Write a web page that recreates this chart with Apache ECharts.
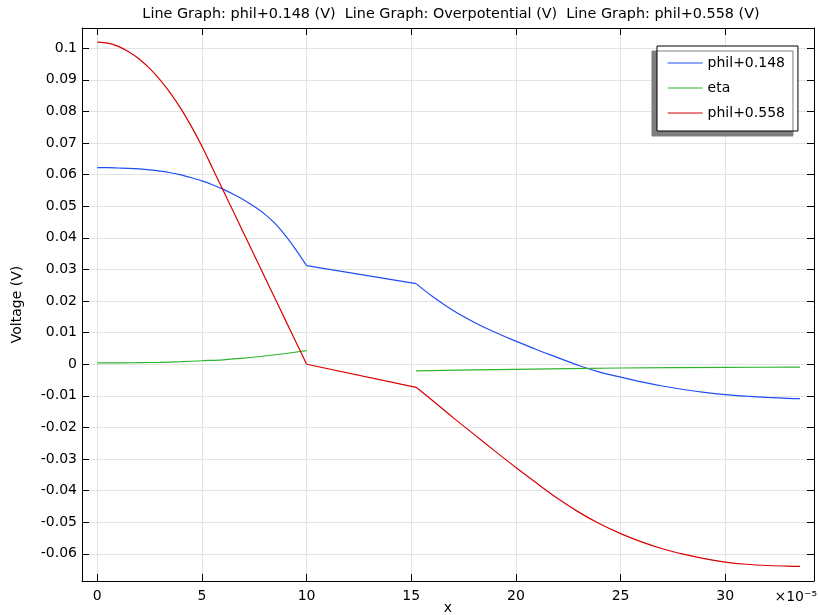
<!DOCTYPE html>
<html>
<head>
<meta charset="utf-8">
<script src="https://cdn.jsdelivr.net/npm/echarts@6/dist/echarts.min.js"></script>
<style>html,body{margin:0;padding:0;background:#fff}#c{width:818px;height:615px}</style>
</head>
<body>
<div id="c"></div>
<script>
// ---- data (x in units of 1e-5) ----
const titleText = 'Line Graph: phil+0.148 (V)  Line Graph: Overpotential (V)  Line Graph: phil+0.558 (V)';
const seriesNames = ['phil+0.148', 'eta', 'phil+0.558'];
const xAxisName = 'x';
const yAxisName = 'Voltage (V)';
const xScaleNote = '×10⁻⁵';

// phil+0.148 (blue), three pieces
const blueAX = [0, 0.5, 1, 1.5, 2, 2.5, 3, 3.5, 4, 4.5, 5, 5.5, 6, 6.5, 7, 7.5, 8, 8.5, 9, 9.5, 10];
const blueAY = [0.0622, 0.0622, 0.0621, 0.0620, 0.0618, 0.0615, 0.0611, 0.0606, 0.0599, 0.0590, 0.0580,
                0.0568, 0.0554, 0.0538, 0.0520, 0.0499, 0.0475, 0.0445, 0.0406, 0.0361, 0.0312];
const blueBX = [10, 15.23];
const blueBY = [0.0312, 0.0255];
const blueCX = [15.23, 16, 17, 18, 19, 20, 21, 22, 23, 24, 25, 26, 27, 28, 29, 30, 31, 32, 33, 33.57];
const blueCY = [0.0255, 0.0215, 0.0170, 0.0133, 0.0101, 0.0073, 0.0046, 0.0021, -0.0004, -0.0025, -0.0041,
                -0.0056, -0.0069, -0.0080, -0.0089, -0.0096, -0.0101, -0.0105, -0.0108, -0.0109];

// eta (green), two pieces
const greenAX = [0, 1, 2, 3, 4, 5, 6, 7, 8, 9, 10];
const greenAY = [0.0004, 0.0004, 0.0005, 0.0006, 0.0008, 0.0011, 0.0014, 0.0019, 0.0026, 0.0034, 0.0043];
const greenBX = [15.23, 20, 25, 30, 33.57];
const greenBY = [-0.0021, -0.0016, -0.0012, -0.0010, -0.0009];

// phil+0.558 (red), three pieces
const redAX = [0, 0.5, 1, 1.5, 2, 2.5, 3, 3.5, 4, 4.5, 5, 5.5, 6, 6.5, 7, 7.5, 8, 8.5, 9, 9.5, 10];
const redAY = [0.1019, 0.1016, 0.1006, 0.0989, 0.0966, 0.0936, 0.0900, 0.0857, 0.0808, 0.0752, 0.0690,
               0.0621, 0.0552, 0.0483, 0.0414, 0.0345, 0.0276, 0.0207, 0.0138, 0.0069, 0.0000];
const redBX = [10, 15.23];
const redBY = [0.0, -0.0073];
const redCX = [15.23, 16, 17, 18, 19, 20, 21, 22, 23, 24, 25, 26, 27, 28, 29, 30, 31, 32, 33, 33.57];
const redCY = [-0.0073, -0.0114, -0.0169, -0.0222, -0.0275, -0.0327, -0.0377, -0.0425, -0.0468, -0.0505,
               -0.0536, -0.0562, -0.0584, -0.0601, -0.0615, -0.0626, -0.0633, -0.0637, -0.0639, -0.0640];

// ---- chart ----
const FONT = 'DejaVu Sans';
const colors = {'phil+0.148': '#1f4ef5', 'eta': '#2db42d', 'phil+0.558': '#d80000'};
function pts(xs, ys) { return xs.map((x, i) => [x, ys[i]]); }
function mk(name, xs, ys, smooth) {
  return {
    type: 'line', name: name, data: pts(xs, ys), showSymbol: false, symbol: 'none',
    smooth: smooth ? 0.3 : false, xAxisIndex: 0, yAxisIndex: 0,
    lineStyle: {color: colors[name], width: 1.2}, itemStyle: {color: colors[name]},
    emphasis: {disabled: true}, animation: false, z: 3
  };
}
const X_MIN = -0.73, X_MAX = 34.24, Y_MIN = -0.0686, Y_MAX = 0.1064;
const axisBase = {
  axisLine: {show: true, onZero: false, lineStyle: {color: '#000', width: 1}},
  axisTick: {show: true, inside: true, length: 7, lineStyle: {color: '#000'}}
};
const chart = echarts.init(document.getElementById('c'), null, {renderer: 'canvas'});
chart.setOption({
  animation: false,
  backgroundColor: '#fff',
  textStyle: {fontFamily: FONT},
  title: {
    text: titleText, left: 451, top: 7, padding: 0, textAlign: 'center',
    textStyle: {fontFamily: FONT, fontSize: 14.4, fontWeight: 'normal', color: '#000'}
  },
  legend: {
    data: seriesNames, orient: 'vertical', left: 657, top: 46,
    padding: [10, 13, 11, 10], itemGap: 11, itemWidth: 35, itemHeight: 14,
    backgroundColor: '#fff', borderColor: '#000', borderWidth: 1,
    shadowColor: '#7f7f7f', shadowBlur: 0, shadowOffsetX: -5, shadowOffsetY: 5,
    itemStyle: {opacity: 0},
    lineStyle: {width: 1.2},
    textStyle: {fontFamily: FONT, fontSize: 14, color: '#000'},
    selectedMode: false
  },
  grid: {left: 82, right: 4, top: 28, bottom: 34, containLabel: false, outerBoundsMode: 'none'},
  xAxis: [
    Object.assign({}, axisBase, {
      type: 'value', position: 'bottom', min: X_MIN, max: X_MAX, minInterval: 5, maxInterval: 5, splitNumber: 7,
      name: xAxisName, nameLocation: 'middle', nameGap: 20, nameMoveOverlap: false,
      nameTextStyle: {fontFamily: FONT, fontSize: 14, color: '#000'},
      axisLabel: {show: true, margin: 8, fontFamily: FONT, fontSize: 14, color: '#000', showMinLabel: false, showMaxLabel: false},
      splitLine: {show: true, lineStyle: {color: '#e3e3e3', width: 1}}
    }),
    Object.assign({}, axisBase, {
      type: 'value', position: 'top', min: X_MIN, max: X_MAX, minInterval: 5, maxInterval: 5, splitNumber: 7,
      axisLabel: {show: false}, splitLine: {show: false}
    })
  ],
  yAxis: [
    Object.assign({}, axisBase, {
      type: 'value', position: 'left', min: Y_MIN, max: Y_MAX, minInterval: 0.01, maxInterval: 0.01, splitNumber: 17,
      name: yAxisName, nameLocation: 'middle', nameGap: 58, nameRotate: 90, nameMoveOverlap: false,
      nameTextStyle: {fontFamily: FONT, fontSize: 14, color: '#000'},
      axisLabel: {show: true, margin: 5, fontFamily: FONT, fontSize: 14, color: '#000', showMinLabel: false, showMaxLabel: false},
      splitLine: {show: true, lineStyle: {color: '#e3e3e3', width: 1}}
    }),
    Object.assign({}, axisBase, {
      type: 'value', position: 'right', min: Y_MIN, max: Y_MAX, minInterval: 0.01, maxInterval: 0.01, splitNumber: 17,
      axisLabel: {show: false}, splitLine: {show: false}
    })
  ],
  graphic: [{
    type: 'text', right: 1, top: 590,
    style: {text: xScaleNote, font: '14px "DejaVu Sans"', fill: '#000'}
  }],
  series: [
    mk('phil+0.148', blueAX, blueAY, true),
    mk('phil+0.148', blueBX, blueBY, false),
    mk('phil+0.148', blueCX, blueCY, true),
    mk('eta', greenAX, greenAY, true),
    mk('eta', greenBX, greenBY, true),
    mk('phil+0.558', redAX, redAY, true),
    mk('phil+0.558', redBX, redBY, false),
    mk('phil+0.558', redCX, redCY, true)
  ]
});
</script>
</body>
</html>
